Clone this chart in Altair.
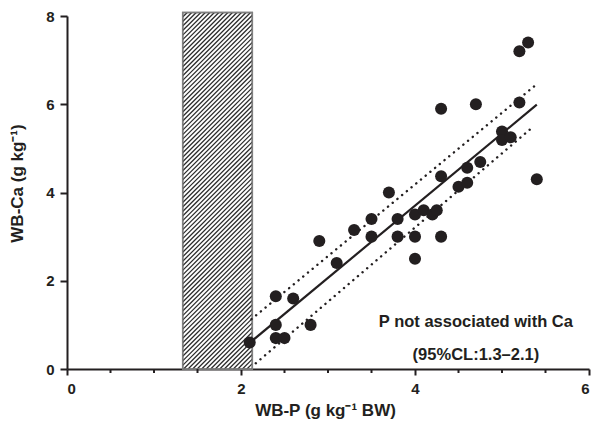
import altair as alt
import pandas as pd

# ---- data ----
wb_p = [2.1, 2.4, 2.4, 2.4, 2.5, 2.6, 2.8, 2.9, 3.1, 3.3, 3.5, 3.5, 3.7, 3.8, 3.8,
        4.0, 4.0, 4.0, 4.1, 4.2, 4.25, 4.3, 4.3, 4.3, 4.5, 4.6, 4.6, 4.75, 4.7,
        5.0, 5.0, 5.1, 5.2, 5.2, 5.3, 5.4]
wb_ca = [0.6, 1.0, 1.65, 0.7, 0.7, 1.6, 1.0, 2.9, 2.4, 3.15, 3.4, 3.0, 4.0, 3.4, 3.0,
         3.5, 3.0, 2.5, 3.6, 3.5, 3.6, 3.0, 4.37, 5.9, 4.13, 4.22, 4.56, 4.69, 6.0,
         5.38, 5.19, 5.25, 6.04, 7.2, 7.4, 4.3]

fit_x = [2.14, 5.40]
fit_y = [0.66, 5.99]
ci_upper_x = [2.12, 5.39]
ci_upper_y = [1.13, 6.44]
ci_lower_x = [2.17, 5.34]
ci_lower_y = [0.13, 5.46]

band_x = [1.33, 2.13]      # 95% CL of P with no Ca association
band_top = 8.08

x_ticks = [0, 2, 4, 6]
x_minor = [0.5, 1.0, 1.5, 2.5, 3.0, 3.5, 4.5, 5.0, 5.5]
y_ticks = [0, 2, 4, 6, 8]

note1 = "P not associated with Ca"
note2 = "(95%CL:1.3\u20132.1)"
note_x = 4.7
note_y = [1.07, 0.32]

W, H = 522, 353
FONT = "Liberation Sans"
INK = "#231f20"

pts = pd.DataFrame({"P": wb_p, "Ca": wb_ca})
fit = pd.DataFrame({"P": fit_x, "Ca": fit_y})
ci = pd.DataFrame({
    "P": ci_upper_x + ci_lower_x,
    "Ca": ci_upper_y + ci_lower_y,
    "band": ["upper", "upper", "lower", "lower"],
})
band = pd.DataFrame({"x1": [band_x[0]], "x2": [band_x[1]], "y1": [0], "y2": [band_top]})
minor = pd.DataFrame({"P": x_minor})

# hatch decoration inside the band (45 degrees on screen)
slope = (W / 6) / (H / 8)
step = 0.052
segs = []
x0 = band_x[0] - band_top / slope
while x0 < band_x[1]:
    lo = max(band_x[0], x0)
    hi = min(band_x[1], x0 + band_top / slope)
    if hi > lo:
        segs.append({"x1": lo, "y1": slope * (lo - x0), "x2": hi, "y2": slope * (hi - x0)})
    x0 += step
hatch = pd.DataFrame(segs)

notes = pd.DataFrame({"P": [note_x, note_x], "Ca": note_y, "t": [note1, note2]})

xs = alt.Scale(domain=[0, 6], nice=False)
ys = alt.Scale(domain=[0, 8], nice=False)

x_axis = alt.Axis(
    values=x_ticks, format="d", tickSize=6,
    tickWidth=2, tickColor=INK, domainWidth=2, domainColor=INK,
    labelFont=FONT, labelFontWeight="bold", labelFontSize=15, labelColor=INK, labelPadding=6,
    title="WB-P (g kg\u207b\u00b9 BW)", titleFont=FONT, titleFontWeight="bold", titleFontSize=17,
    titleColor=INK, titleX=258, titleY=41, titleBaseline="middle", grid=False,
)
y_axis = alt.Axis(
    values=y_ticks, format="d", tickSize=7, tickWidth=2, tickColor=INK, domainWidth=2, domainColor=INK,
    labelFont=FONT, labelFontWeight="bold", labelFontSize=15, labelColor=INK, labelPadding=6,
    title="WB-Ca (g kg\u207b\u00b9)", titleFont=FONT, titleFontWeight="bold", titleFontSize=17,
    titleColor=INK, titleX=-50, titleY=167, titleBaseline="middle", grid=False,
)

rect = alt.Chart(band).mark_rect(fill="white", stroke="#7f7f7f", strokeWidth=1.5).encode(
    x=alt.X("x1:Q", scale=xs, axis=x_axis), x2="x2:Q",
    y=alt.Y("y1:Q", scale=ys, axis=y_axis), y2="y2:Q",
)
hatch_layer = alt.Chart(hatch).mark_rule(color="#2a2a2a", strokeWidth=1.25).encode(
    x=alt.X("x1:Q", scale=xs), x2="x2:Q", y=alt.Y("y1:Q", scale=ys), y2="y2:Q"
)
rect_border = alt.Chart(band).mark_rect(fill="transparent", stroke="#7f7f7f", strokeWidth=1.5).encode(
    x=alt.X("x1:Q", scale=xs), x2="x2:Q", y=alt.Y("y1:Q", scale=ys), y2="y2:Q"
)
minor_ticks = alt.Chart(minor).mark_rule(color=INK, strokeWidth=2).encode(
    x=alt.X("P:Q", scale=xs), y=alt.value(H), y2=alt.value(H + 4)
)
ci_layer = alt.Chart(ci).mark_line(color=INK, strokeWidth=2.4, strokeDash=[0.1, 6], strokeCap="round").encode(
    x=alt.X("P:Q", scale=xs), y=alt.Y("Ca:Q", scale=ys), detail="band:N"
)
fit_layer = alt.Chart(fit).mark_line(color=INK, strokeWidth=2.2).encode(
    x=alt.X("P:Q", scale=xs), y=alt.Y("Ca:Q", scale=ys)
)
pt_layer = alt.Chart(pts).mark_circle(color=INK, opacity=1, size=145).encode(
    x=alt.X("P:Q", scale=xs), y=alt.Y("Ca:Q", scale=ys)
)
txt = alt.Chart(notes).mark_text(font=FONT, fontWeight="bold", fontSize=16.5, color=INK,
                                  align="center", baseline="middle").encode(
    x=alt.X("P:Q", scale=xs), y=alt.Y("Ca:Q", scale=ys), text="t:N"
)

chart = alt.layer(rect, hatch_layer, rect_border, minor_ticks, ci_layer, fit_layer, pt_layer, txt).properties(
    width=W, height=H,
    autosize=alt.AutoSizeParams(type="none"),
    padding={"left": 59, "top": 8, "right": 4, "bottom": 55},
).configure_view(strokeOpacity=0)

chart.save("out.html", embed_options={"renderer": "svg", "actions": False})
